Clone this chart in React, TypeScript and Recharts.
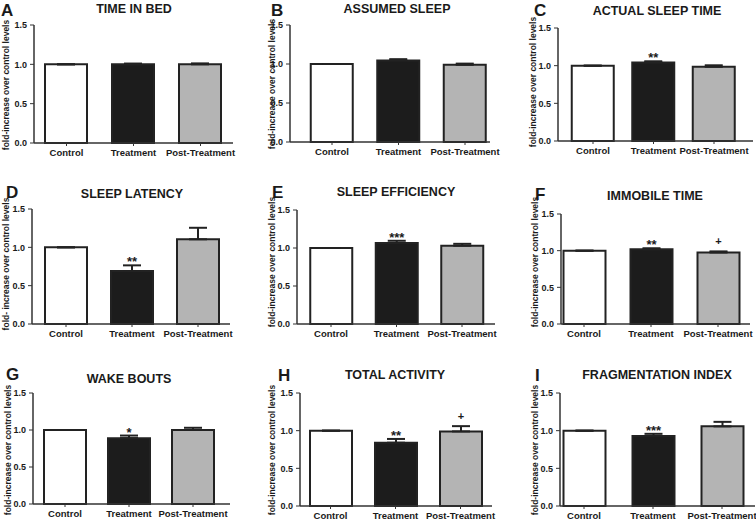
import React from "react";
import { BarChart, Bar, XAxis, YAxis, ErrorBar, Cell, LabelList } from "recharts";

const categories = ["Control", "Treatment", "Post-Treatment"];
const panelLetters = ["A", "B", "C", "D", "E", "F", "G", "H", "I"];
const panelTitles = [
  "TIME IN BED",
  "ASSUMED SLEEP",
  "ACTUAL SLEEP TIME",
  "SLEEP LATENCY",
  "SLEEP EFFICIENCY",
  "IMMOBILE TIME",
  "WAKE BOUTS",
  "TOTAL ACTIVITY",
  "FRAGMENTATION INDEX",
];
const yAxisLabels = [
  "fold-increase over control levels",
  "fold-increase over control levels",
  "fold-increase over control levels",
  "fold- increase over control levels",
  "fold-increase over control levels",
  "fold-increase over control levels",
  "fold-increase over control levels",
  "fold-increase over control levels",
  "fold-increase over control levels",
];
const yTicks = [0, 0.5, 1.0, 1.5];

// mean fold-change per group
const timeInBedMean = [1.0, 1.0, 1.0];
const assumedSleepMean = [1.0, 1.045, 0.99];
const actualSleepMean = [1.0, 1.043, 0.985];
const sleepLatencyMean = [1.0, 0.69, 1.105];
const sleepEfficiencyMean = [1.0, 1.065, 1.03];
const immobileTimeMean = [1.0, 1.018, 0.975];
const wakeBoutsMean = [1.0, 0.89, 1.0];
const totalActivityMean = [1.0, 0.84, 0.99];
const fragmentationMean = [1.0, 0.93, 1.057];

// upper error (SEM)
const timeInBedSem = [0, 0.01, 0.012];
const assumedSleepSem = [0, 0.017, 0.015];
const actualSleepSem = [0, 0.015, 0.02];
const sleepLatencySem = [0, 0.075, 0.15];
const sleepEfficiencySem = [0, 0.03, 0.025];
const immobileTimeSem = [0, 0.015, 0.015];
const wakeBoutsSem = [0, 0.035, 0.03];
const totalActivitySem = [0, 0.05, 0.07];
const fragmentationSem = [0, 0.028, 0.06];

// significance marks
const timeInBedSig = ["", "", ""];
const assumedSleepSig = ["", "", ""];
const actualSleepSig = ["", "**", ""];
const sleepLatencySig = ["", "**", ""];
const sleepEfficiencySig = ["", "***", ""];
const immobileTimeSig = ["", "**", "+"];
const wakeBoutsSig = ["", "*", ""];
const totalActivitySig = ["", "**", "+"];
const fragmentationSig = ["", "***", ""];

const means = [
  timeInBedMean, assumedSleepMean, actualSleepMean,
  sleepLatencyMean, sleepEfficiencyMean, immobileTimeMean,
  wakeBoutsMean, totalActivityMean, fragmentationMean,
];
const sems = [
  timeInBedSem, assumedSleepSem, actualSleepSem,
  sleepLatencySem, sleepEfficiencySem, immobileTimeSem,
  wakeBoutsSem, totalActivitySem, fragmentationSem,
];
const sigs = [
  timeInBedSig, assumedSleepSig, actualSleepSig,
  sleepLatencySig, sleepEfficiencySig, immobileTimeSig,
  wakeBoutsSig, totalActivitySig, fragmentationSig,
];

// layout (page pixels)
const layout = [
  { axisX: 34, rightX: 233, topY: 25, bottomY: 143, c0: 66.5, s: 67, labelX: 6, labelY: 85, titleX: 134, titleY: 13, letterX: 1, letterY: 16 },
  { axisX: 290, rightX: 490, topY: 25, bottomY: 142, c0: 332, s: 66.5, labelX: 272, labelY: 84, titleX: 397, titleY: 13, letterX: 271, letterY: 16 },
  { axisX: 558, rightX: 753, topY: 28, bottomY: 141, c0: 593, s: 60.5, labelX: 533, labelY: 82, titleX: 657, titleY: 15, letterX: 534, letterY: 16 },
  { axisX: 32, rightX: 230, topY: 209, bottomY: 324, c0: 66, s: 66, labelX: 6, labelY: 264, titleX: 132, titleY: 198, letterX: 6, letterY: 198 },
  { axisX: 297, rightX: 495, topY: 210, bottomY: 324, c0: 331, s: 65.5, labelX: 272, labelY: 262, titleX: 396, titleY: 196, letterX: 272, letterY: 198 },
  { axisX: 561, rightX: 750, topY: 214, bottomY: 324, c0: 584, s: 67, labelX: 535, labelY: 262, titleX: 655, titleY: 200, letterX: 535, letterY: 200 },
  { axisX: 33, rightX: 230, topY: 393, bottomY: 504, c0: 65, s: 64, labelX: 8, labelY: 450, titleX: 129, titleY: 383, letterX: 6, letterY: 380 },
  { axisX: 300, rightX: 492, topY: 393, bottomY: 506, c0: 330.5, s: 65, labelX: 272, labelY: 450, titleX: 395, titleY: 379, letterX: 278, letterY: 381 },
  { axisX: 560, rightX: 755, topY: 393, bottomY: 506, c0: 584, s: 69, labelX: 535, labelY: 450, titleX: 657, titleY: 379, letterX: 535, letterY: 381 },
];

const barFills = ["#ffffff", "#1c1c1c", "#b4b4b4"];
const FONT = "'Liberation Sans', Arial, Helvetica, sans-serif";
const TEXT = "#1a1a1a";

const M_TOP = 8;
const M_RIGHT = 24;
const Y_W = 40;
const X_H = 26;

function Panel({ idx }: { idx: number }) {
  const L = layout[idx];
  const m = means[idx];
  const e = sems[idx];
  const sg = sigs[idx];
  const data = categories.map((c, i) => ({
    pos: i + 1,
    name: c,
    value: m[i],
    err: [0, e[i]],
    sig: sg[i],
  }));
  const lo = 1 - (L.c0 - L.axisX) / L.s;
  const hi = 1 + (L.rightX - L.c0) / L.s;
  const width = L.rightX - L.axisX + Y_W + M_RIGHT;
  const height = L.bottomY - L.topY + M_TOP + X_H;

  const renderSig = (props: any) => {
    const { x, y, width: w, height: h, index, value } = props;
    if (!value) return null;
    const i = typeof index === "number" ? index : 0;
    const mean = m[i];
    const pxPerUnit = Number(h) / mean;
    const errTop = Number(y) - e[i] * pxPerUnit;
    const cx = Number(x) + Number(w) / 2;
    const isPlus = value === "+";
    return (
      <text
        x={cx}
        y={isPlus ? errTop - 6 : errTop + 1}
        textAnchor="middle"
        fontFamily={FONT}
        fontSize={isPlus ? 11 : 13}
        fontWeight="bold"
        fill={TEXT}
      >
        {value}
      </text>
    );
  };

  return (
    <div style={{ position: "absolute", left: L.axisX - Y_W, top: L.topY - M_TOP, width, height }}>
      <BarChart
        width={width}
        height={height}
        data={data}
        margin={{ top: M_TOP, right: M_RIGHT, left: 0, bottom: 0 }}
      >
        <XAxis
          dataKey="pos"
          type="number"
          domain={[lo, hi]}
          allowDataOverflow
          ticks={[1, 2, 3]}
          interval={0}
          tickFormatter={(v: number) => categories[Math.round(v) - 1] ?? ""}
          height={X_H}
          axisLine={{ stroke: "#333", strokeWidth: 1.5 }}
          tickLine={{ stroke: "#333", strokeWidth: 1 }}
          tickSize={3}
          tickMargin={3}
          tick={{ fontSize: 9.5, fontFamily: FONT, fontWeight: "bold", fill: TEXT }}
        />
        <YAxis
          type="number"
          domain={[0, 1.5]}
          ticks={yTicks}
          interval={0}
          width={Y_W}
          tickFormatter={(v: number) => v.toFixed(1)}
          axisLine={{ stroke: "#333", strokeWidth: 1.5 }}
          tickLine={{ stroke: "#333", strokeWidth: 1 }}
          tickSize={4}
          tickMargin={3}
          tick={{ fontSize: 9, fontFamily: FONT, fontWeight: "bold", fill: TEXT }}
        />
        <Bar
          dataKey="value"
          barSize={42}
          stroke="#222"
          strokeWidth={2}
          isAnimationActive={false}
        >
          {data.map((d, i) => (
            <Cell key={d.name} fill={barFills[i]} />
          ))}
          <ErrorBar dataKey="err" width={9} stroke="#222" strokeWidth={2} direction="y" />
          <LabelList dataKey="sig" content={renderSig} />
        </Bar>
      </BarChart>
    </div>
  );
}

export default function App() {
  return (
    <div
      style={{
        position: "absolute",
        left: 0,
        top: 0,
        width: 756,
        height: 521,
        background: "#ffffff",
        overflow: "hidden",
      }}
    >
      {layout.map((_, i) => (
        <Panel key={i} idx={i} />
      ))}
      <svg
        width={756}
        height={521}
        style={{ position: "absolute", left: 0, top: 0, pointerEvents: "none" }}
      >
        {layout.map((L, i) => (
          <g key={i}>
            <text x={L.letterX} y={L.letterY} fontFamily={FONT} fontSize={17} fontWeight="bold" fill={TEXT}>
              {panelLetters[i]}
            </text>
            <text x={L.titleX} y={L.titleY} textAnchor="middle" fontFamily={FONT} fontSize={12.5} fontWeight="bold" fill={TEXT}>
              {panelTitles[i]}
            </text>
            <text
              x={L.labelX}
              y={L.labelY}
              transform={`rotate(-90 ${L.labelX} ${L.labelY})`}
              textAnchor="middle"
              dominantBaseline="central"
              fontFamily={FONT}
              fontSize={8.5}
              fontWeight="bold"
              fill={TEXT}
            >
              {yAxisLabels[i]}
            </text>
          </g>
        ))}
      </svg>
    </div>
  );
}
